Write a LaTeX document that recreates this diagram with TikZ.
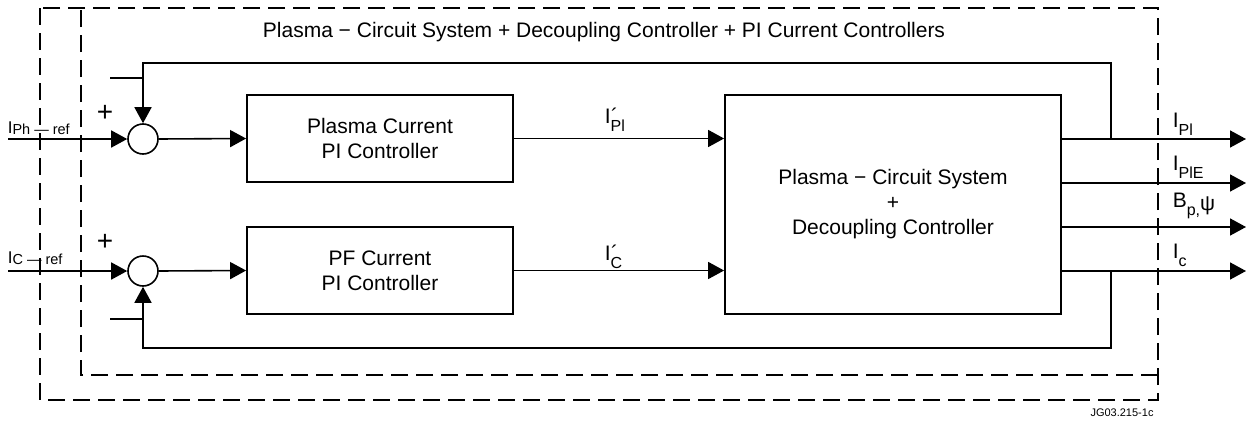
\documentclass[tikz,border=0pt]{standalone}
\usepackage{fontspec}
\setmainfont{Liberation Sans}
\usetikzlibrary{arrows.meta}
\newcommand{\lsub}[2][8pt]{\raisebox{-#1}{\fontsize{16}{16}\selectfont #2}}
\newcommand{\prm}{\rlap{\kern0.5pt ´}}
\begin{document}
\begin{tikzpicture}[x=1pt,y=-1pt, line width=1.6pt,
  blk/.style={draw, line width=1.8pt, align=center, font=\fontsize{21}{25}\selectfont},
  sumj/.style={circle, draw, line width=1.6pt, minimum size=30pt, inner sep=0pt},
  arr/.style={-{Triangle[length=16pt,width=17pt]}},
  lbl/.style={font=\fontsize{21}{25}\selectfont, inner sep=0pt},
  inlbl/.style={font=\fontsize{17}{17}\selectfont, inner sep=0pt, anchor=base west},
  frame/.style={dash pattern=on 17pt off 8pt}]
\useasboundingbox (0,0) rectangle (1249,423);

% dashed frames (inner frame shares top and right edges with the outer one)
\draw[frame, line width=2.2pt] (40,8) rectangle (1158,400);
\draw[frame, line width=1.5pt] (1158,375) -- (81,375) -- (81,8);

\node[lbl] (title) at (604,32) {Plasma − Circuit System + Decoupling Controller + PI Current Controllers};

% blocks
\node[blk, minimum width=266pt, minimum height=87pt] (pc) at (380,138.5) {Plasma Current\\PI Controller};
\node[blk, minimum width=266pt, minimum height=87pt] (pf) at (380,270.5) {PF Current\\PI Controller};
\node[blk, minimum width=336pt, minimum height=219pt] (sys) at (893,204.5) {Plasma − Circuit System\\+\\Decoupling Controller};

% summing junctions
\node[sumj] (s1) at (143,139) {};
\node[sumj] (s2) at (143,271) {};

% coordinates
\coordinate (in1) at (8,139);
\coordinate (in2) at (8,271);
\coordinate (o1) at (1246,139);
\coordinate (o2) at (1246,183);
\coordinate (o3) at (1246,227);
\coordinate (o4) at (1246,271);
\coordinate (fb1) at (1111,139);
\coordinate (t1) at (1111,63);
\coordinate (fb2) at (1111,271);
\coordinate (t2) at (1111,348);

% connectors
\draw[arr] (in1) -- (s1.west);
\draw[arr] (in2) -- (s2.west);
\draw[arr] (s1.east) -- (pc.west);
\draw[arr] (s2.east) -- (pf.west);
\draw[arr] (pc.east) -- (sys.west |- pc.east);
\draw[arr] (pf.east) -- (sys.west |- pf.east);
\draw[arr] (sys.east |- o1) -- (o1);
\draw[arr] (sys.east |- o2) -- (o2);
\draw[arr] (sys.east |- o3) -- (o3);
\draw[arr] (sys.east |- o4) -- (o4);
\draw[arr] (fb1) -- (t1) -| (s1.north);
\draw[arr] (fb2) -- (t2) -| (s2.south);

% minus signs
\draw (110,78) -- (143,78);
\draw (110,319) -- (143,319);
% plus signs
\node[font=\fontsize{28}{28}\selectfont, inner sep=0pt] (p1) at (105,113) {+};
\node[font=\fontsize{28}{28}\selectfont, inner sep=0pt] (p2) at (105,242) {+};

% input labels
\node[inlbl] (li1) at (7,133) {I\raisebox{-1pt}{\fontsize{14.5}{14.5}\selectfont Ph — ref}};
\node[inlbl] (li2) at (7,263) {I\raisebox{-1pt}{\fontsize{14.5}{14.5}\selectfont C — ref}};

% intermediate labels
\node[lbl, anchor=base west] (lm1) at (604,123) {I\prm\lsub{Pl}};
\node[lbl, anchor=base west] (lm2) at (604,260) {I\prm\lsub{C}};

% output labels
\node[lbl, anchor=base west] (lo1) at (1172,127) {I\lsub{Pl}};
\node[lbl, anchor=base west] (lo2) at (1172,170) {I\lsub{PlE}};
\node[lbl, anchor=base west] (lo3) at (1172,207) {B\lsub{p,}\raisebox{-3pt}{ψ}};
\node[lbl, anchor=base west] (lo4) at (1172,258) {I\lsub{c}};

\node[font=\fontsize{11}{11}\selectfont, inner sep=0pt] (jg) at (1122,413) {JG03.215-1c};
\end{tikzpicture}
\end{document}
